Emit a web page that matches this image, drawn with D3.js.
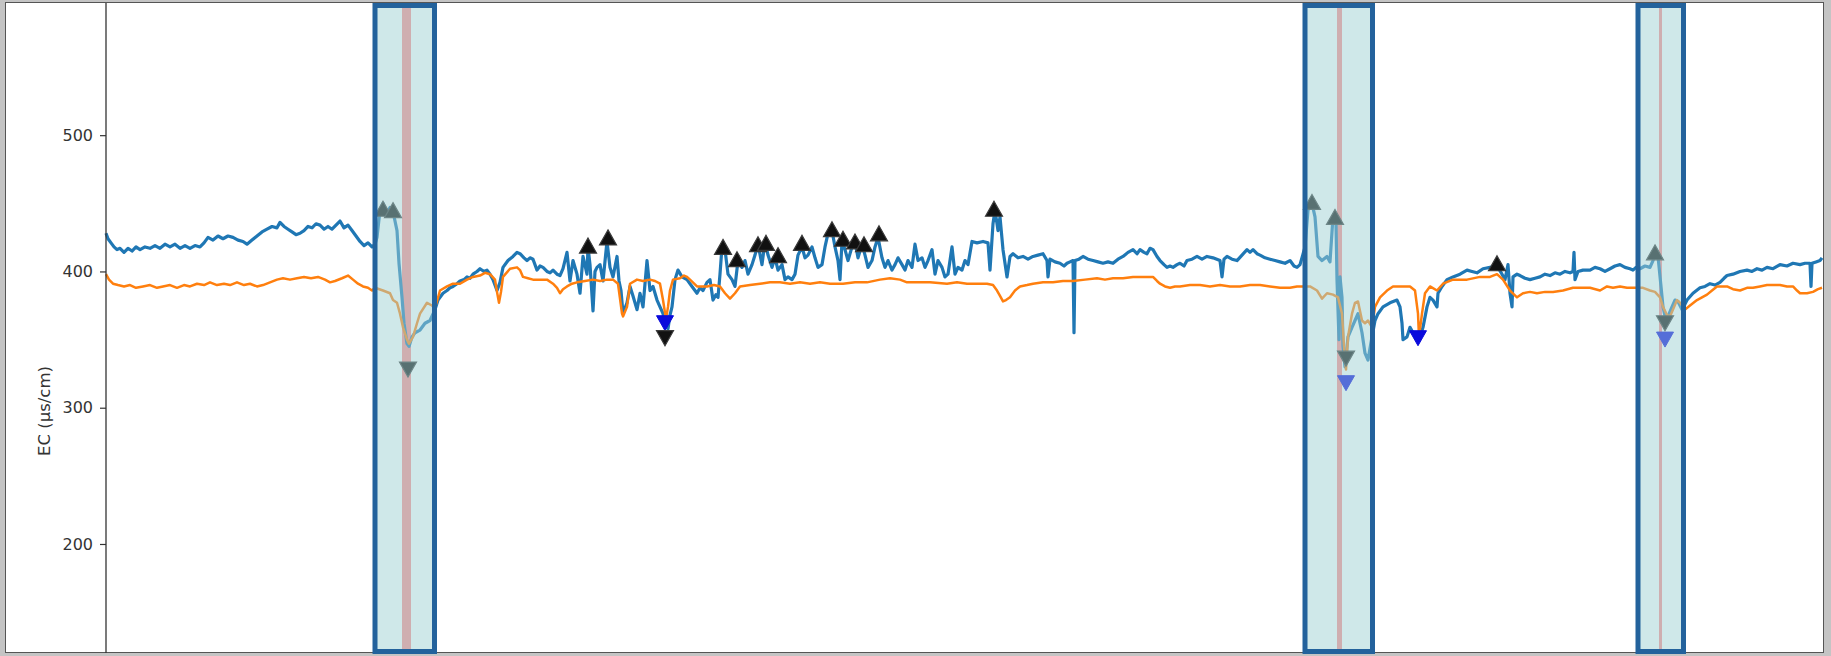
<!DOCTYPE html>
<html><head><meta charset="utf-8">
<script src="https://cdn.jsdelivr.net/npm/d3@7"></script>
<style>html,body{margin:0;padding:0;background:#c4c4c4;}svg{display:block;}</style>
</head><body>
<svg id="chart" width="1831" height="656"></svg>
<script>
// ---- data ----
const yTicks = [200, 300, 400, 500];
const yLabel = "EC (µs/cm)";
// [time index, EC]
const blueSeries = [[0,428],[2,424],[5,421],[8,418],[11,416],[14,417],[18,414],[22,417],[26,415],[30,418],[34,416],[39,418],[44,417],[49,419],[54,417],[59,420],[64,418],[69,420],[74,417],[79,419],[84,417],[89,419],[94,418],[98,421],[102,425],[107,423],[112,426],[117,424],[122,426],[127,425],[132,423],[137,422],[141,420],[146,423],[151,426],[156,429],[161,431],[166,433],[171,432],[174,436],[178,433],[182,431],[186,429],[190,427],[194,428],[198,430],[202,433],[206,432],[210,435],[214,434],[218,431],[222,433],[226,431],[230,434],[234,437],[238,432],[242,434],[246,430],[250,426],[254,422],[258,419],[262,421],[266,418],
[269,420],[271,425],[274,445],[277,450],[281,443],[284,447],[287,444],[291,430],[293,406],[296,381],[298,362],[301,347],[303,345],[306,352],[309,355],[314,357],[319,362],[324,364],[329,372],[332,379],[337,384],[341,386],[344,388],[347,389],[351,391],[354,393],[358,394],[361,396],[364,395],[367,398],[371,400],[374,402],[378,400],[381,401],[384,398],[387,394],[391,386],[394,392],[397,403],[402,408],[407,411],[411,414],[414,413],[418,410],[421,408],[424,410],[427,409],[431,401],[434,404],[437,403],[441,400],[444,399],[447,401],[451,398],[454,397],[457,402],[461,414],[464,393],[467,408],[471,398],[474,384],[477,411],[481,398],[482,418],[484,405],[487,371],[489,400],[491,403],[494,405],[497,393],[501,422],[504,403],[507,396],[511,411],[513,393],[515,386],[517,369],[521,377],[524,389],[527,382],[531,372],[534,384],[537,374],[541,408],[544,386],[547,389],[551,379],[554,374],[557,369],[559,362],[562,358],[564,368],[566,374],[569,394],[572,401],[576,396],[581,394],[586,389],[591,384],[594,388],[597,386],[601,392],[604,394],[607,379],[610,383],[612,381],[614,398],[616,418],[619,416],[622,398],[626,394],[629,389],[632,408],[636,403],[639,408],[642,398],[646,405],[649,412],[652,420],[656,405],[659,422],[662,412],[666,403],[669,410],[672,401],[676,405],[679,394],[682,396],[686,394],[689,398],[692,412],[696,418],[699,410],[702,412],[706,418],[709,410],[712,403],[716,405],[719,418],[722,428],[726,430],[729,418],[732,408],[734,394],[736,422],[739,416],[742,408],[746,418],[749,422],[752,410],[756,420],[759,412],[762,403],[766,408],[769,418],[772,425],[776,410],[779,403],[782,408],[786,401],[789,405],[792,410],[796,405],[799,401],[802,408],[806,403],[809,420],[812,408],[816,410],[819,403],[822,408],[826,416],[829,398],[832,408],[836,403],[839,396],[842,398],[846,418],[849,398],[852,403],[856,401],[859,408],[862,405],[866,422],[871,421],[877,422],[882,421],[884,401],[887,435],[889,445],[892,430],[894,440],[897,416],[901,396],[904,411],[907,413],[912,410],[917,411],[922,409],[927,411],[932,412],[937,413],[941,408],[942,396],[944,409],[949,407],[954,406],[958,404],[961,406],[964,407],[967,408],[968,355],[969,408],[973,409],[977,411],[982,409],[987,408],[992,407],[997,406],[1002,407],[1007,406],[1012,409],[1017,411],[1022,414],[1027,416],[1031,413],[1034,416],[1038,414],[1041,413],[1044,417],[1047,416],[1051,411],[1054,408],[1058,405],[1061,403],[1064,404],[1067,403],[1071,405],[1074,406],[1078,404],[1081,408],[1086,409],[1091,411],[1096,409],[1101,411],[1107,410],[1114,408],[1116,396],[1118,409],[1121,411],[1126,409],[1131,408],[1136,412],[1141,416],[1144,414],[1147,416],[1151,413],[1154,412],[1159,410],[1164,409],[1169,408],[1174,407],[1179,406],[1184,408],[1188,404],[1191,403],[1194,405],[1196,410],[1199,418],
[1202,445],[1206,450],[1209,440],[1212,411],[1216,408],[1221,411],[1224,407],[1227,440],[1228,442],[1230,435],[1231,394],[1233,350],[1234,396],[1236,381],[1237,345],[1239,330],[1242,352],[1246,359],[1249,364],[1252,369],[1256,355],[1259,340],[1262,335],[1266,352],[1269,364],[1272,369],[1277,374],[1284,377],[1291,379],[1294,374],[1296,362],[1297,350],[1301,352],[1304,359],[1307,355],[1311,350],[1314,352],[1317,359],[1321,374],[1324,381],[1327,379],[1331,374],[1332,384],[1336,389],[1341,394],[1347,396],[1354,398],[1361,401],[1366,400],[1371,399],[1377,402],[1384,403],[1391,404],[1396,398],[1399,394],[1402,405],[1404,384],[1406,374],[1407,396],[1411,398],[1414,397],[1419,395],[1424,394],[1429,395],[1434,396],[1439,398],[1444,397],[1449,399],[1454,398],[1459,400],[1464,399],[1467,400],[1468,414],[1469,394],[1472,400],[1477,401],[1484,401],[1489,403],[1494,402],[1499,400],[1504,402],[1509,404],[1514,405],[1519,403],[1524,402],[1527,401],[1530,403],
[1534,402],[1539,404],[1544,403],[1547,408],[1550,414],[1552,411],[1555,389],[1557,374],[1560,364],[1562,367],[1566,374],[1569,379],[1572,378],[1576,372],[1579,376],[1581,379],[1587,384],[1594,388],[1599,389],[1604,391],[1609,390],[1614,392],[1618,395],[1621,397],[1627,398],[1634,400],[1641,401],[1646,400],[1651,402],[1656,401],[1661,403],[1667,402],[1674,405],[1681,404],[1687,406],[1694,405],[1699,406],[1704,406],[1705,389],[1706,406],[1710,407],[1714,408],[1716,410]];

const orangeSeries = [[0,398],[3,394],[7,391],[12,390],[18,389],[24,390],[30,388],[37,389],[44,390],[51,388],[57,389],[64,390],[71,388],[78,390],[84,389],[91,391],[98,390],[104,392],[111,390],[118,391],[124,390],[131,392],[138,390],[144,391],[151,389],[157,390],[164,392],[171,394],[177,395],[184,394],[191,395],[198,396],[205,395],[212,396],[219,394],[224,392],[229,393],[236,395],[242,397],[247,394],[252,391],[257,389],[262,388],[266,386],[269,388],[277,386],[284,384],[287,379],[291,377],[294,369],[297,359],[301,350],[303,347],[307,352],[311,362],[314,369],[321,377],[326,375],[329,373],[334,386],[341,389],[347,391],[354,391],[361,394],[367,396],[374,397],[379,399],[384,398],[389,394],[391,385],[393,377],[395,385],[397,396],[404,402],[411,403],[414,401],[417,396],[422,395],[427,394],[434,394],[441,394],[447,391],[451,388],[454,384],[457,387],[461,389],[466,391],[471,392],[479,393],[487,394],[494,393],[501,394],[507,394],[512,391],[514,380],[516,369],[517,367],[521,374],[524,391],[531,394],[537,393],[544,394],[549,393],[554,391],[557,379],[560,365],[562,374],[564,386],[567,394],[574,395],[578,397],[581,396],[584,394],[591,389],[601,389],[608,390],[614,389],[619,384],[624,380],[629,384],[634,389],[644,390],[654,391],[664,392],[674,392],[684,391],[694,392],[704,391],[714,392],[724,391],[737,391],[749,392],[761,392],[774,394],[784,395],[794,394],[801,392],[809,392],[824,392],[841,391],[851,392],[861,391],[871,391],[881,391],[887,390],[891,386],[894,382],[897,378],[900,379],[904,381],[909,386],[914,389],[921,390],[927,391],[937,392],[947,392],[957,393],[967,393],[979,394],[991,395],[999,394],[1007,395],[1017,395],[1027,396],[1034,396],[1041,396],[1047,396],[1051,393],[1054,391],[1059,389],[1064,388],[1069,389],[1074,389],[1084,390],[1094,390],[1104,389],[1114,390],[1124,389],[1134,389],[1144,390],[1154,390],[1164,389],[1174,388],[1184,388],[1191,389],[1197,389],[1204,389],[1211,386],[1216,380],[1221,384],[1227,383],[1232,381],[1236,369],[1238,345],[1240,328],[1242,352],[1246,369],[1249,377],[1252,378],[1256,364],[1259,362],[1262,364],[1266,359],[1269,374],[1274,381],[1281,386],[1287,389],[1297,389],[1304,389],[1309,386],[1312,369],[1313,352],[1316,369],[1319,384],[1324,389],[1331,386],[1337,391],[1347,394],[1361,394],[1374,396],[1384,396],[1391,398],[1397,394],[1404,386],[1411,381],[1417,384],[1424,385],[1431,384],[1439,385],[1447,385],[1457,386],[1467,388],[1477,388],[1484,388],[1494,386],[1501,389],[1507,388],[1514,389],[1521,388],[1531,388],[1537,388],[1544,386],[1549,385],[1554,381],[1557,374],[1561,368],[1564,367],[1567,372],[1571,379],[1574,377],[1579,372],[1584,375],[1591,379],[1601,383],[1606,386],[1611,389],[1621,389],[1627,387],[1634,386],[1641,388],[1647,388],[1654,389],[1661,390],[1667,390],[1674,390],[1681,389],[1687,389],[1691,386],[1694,384],[1701,384],[1707,385],[1712,387],[1716,388]];

const upMarkers = [[277,446],[287,445],[482,419],[502,425],[617,418],[631,409],[652,420],[660,421],[672,412],[696,421],[726,431],[737,424],[749,422],[758,420],[773,428],[888,446],[1391,406],[1206,451],[1229,440],[1549,414]];
const downMarkers = [[302,328],[559,351],[1240,336],[1559,362]];
const downBlueMarkers = [[559,362],[1312,351],[1240,318],[1559,350]];

// highlighted event windows [start, end] and event instants [start, end]
const eventWindows = [[269,328.5],[1199,1266.5],[1532,1577.5]];
const eventLines = [[296,305],[1231,1236],[1553,1556]];

// ---- drawing ----
const svg = d3.select("#chart");
const W = 1831, H = 656;
const plot = {left:106, right:1822, top:3, bottom:653};

svg.append("rect").attr("x",0).attr("y",0).attr("width",W).attr("height",H).attr("fill","#c4c4c4");
svg.append("rect").attr("x",5.5).attr("y",2.5).attr("width",1818).attr("height",650)
  .attr("fill","#ffffff").attr("stroke","#555").attr("stroke-width",1);

const x = d3.scaleLinear().domain([0,1716]).range([plot.left, plot.right]);
const y = d3.scaleLinear().domain([120,597]).range([plot.bottom, plot.top]);

const g = svg.append("g");

// event instant bands (under the lines)
g.selectAll("rect.evline").data(eventLines).join("rect")
  .attr("class","evline")
  .attr("x", d => x(d[0])).attr("width", d => x(d[1]) - x(d[0]))
  .attr("y", plot.top).attr("height", plot.bottom - plot.top)
  .attr("fill", "#ff8a8c");

const line = d3.line().x(d => x(d[0])).y(d => y(d[1]));
g.append("path").datum(blueSeries).attr("d", line)
  .attr("fill","none").attr("stroke","#1f77b4").attr("stroke-width",3.2).attr("stroke-linejoin","round");
g.append("path").datum(orangeSeries).attr("d", line)
  .attr("fill","none").attr("stroke","#ff7f0e").attr("stroke-width",2.5).attr("stroke-linejoin","round");

const tw = 17, th = 15;
const upPath = `M0,${-th/2}L${tw/2},${th/2}L${-tw/2},${th/2}Z`;
const downPath = `M0,${th/2}L${tw/2},${-th/2}L${-tw/2},${-th/2}Z`;

g.selectAll("path.dnb").data(downBlueMarkers).join("path").attr("class","dnb")
  .attr("d", downPath).attr("transform", d => `translate(${x(d[0])},${y(d[1])})`)
  .attr("fill","#0a0adc").attr("stroke","#0a0adc").attr("stroke-width",1);
g.selectAll("path.up").data(upMarkers).join("path").attr("class","up")
  .attr("d", upPath).attr("transform", d => `translate(${x(d[0])},${y(d[1])})`)
  .attr("fill","#111").attr("stroke","#3a3a3a").attr("stroke-width",1.2);
g.selectAll("path.dn").data(downMarkers).join("path").attr("class","dn")
  .attr("d", downPath).attr("transform", d => `translate(${x(d[0])},${y(d[1])})`)
  .attr("fill","#111").attr("stroke","#3a3a3a").attr("stroke-width",1.2);

// event windows overlay
g.selectAll("rect.evwin").data(eventWindows).join("rect")
  .attr("class","evwin")
  .attr("x", d => x(d[0])).attr("width", d => x(d[1]) - x(d[0]))
  .attr("y", plot.top + 2.5).attr("height", plot.bottom - plot.top - 4)
  .attr("fill", "rgba(160,210,212,0.5)")
  .attr("stroke", "#23629c").attr("stroke-width", 5);

// y axis
const yAxis = d3.axisLeft(y).tickValues(yTicks).tickSize(6).tickPadding(7).tickFormat(d3.format("d"));
const ax = svg.append("g").attr("transform",`translate(${plot.left},0)`).call(yAxis);
ax.select(".domain").remove();
ax.selectAll(".tick line").attr("stroke","#333").attr("stroke-width",1.2);
ax.selectAll(".tick text").attr("fill","#333").attr("font-family","DejaVu Sans").attr("font-size","16px");
svg.append("line").attr("x1",plot.left).attr("x2",plot.left).attr("y1",plot.top).attr("y2",plot.bottom)
  .attr("stroke","#333").attr("stroke-width",1.3);

svg.append("text").attr("transform","translate(50,411) rotate(-90)")
  .attr("text-anchor","middle").attr("fill","#333")
  .attr("font-family","DejaVu Sans").attr("font-size","16.5px").text(yLabel);
</script>
</body></html>
